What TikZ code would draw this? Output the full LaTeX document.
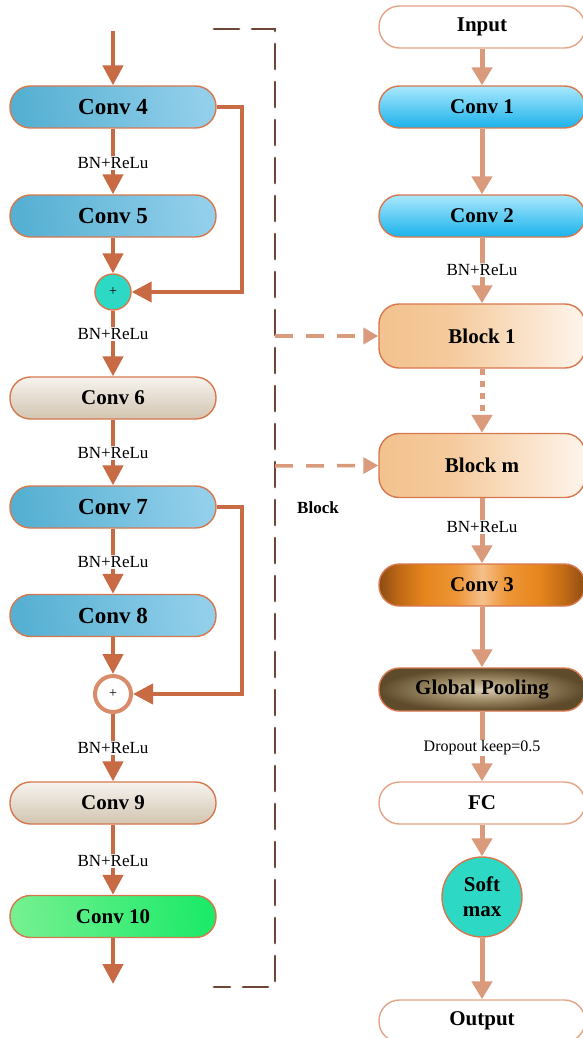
\documentclass[tikz,border=0pt]{standalone}
\usepackage{fontspec}
\setmainfont{Liberation Serif}
\usetikzlibrary{arrows.meta}
\definecolor{lcol}{HTML}{C86A44}
\definecolor{rcol}{HTML}{DA9A7C}
\definecolor{boxc}{HTML}{D6784E}
\definecolor{wboxc}{HTML}{E3A486}
\definecolor{framec}{HTML}{6E4635}
\definecolor{bA}{HTML}{56B0D2}
\definecolor{bB}{HTML}{5A97C8}
\definecolor{bC}{HTML}{92CFEB}
\definecolor{gA}{HTML}{74F090}
\definecolor{gB}{HTML}{48D674}
\definecolor{gC}{HTML}{1CEA68}
\definecolor{beT}{HTML}{F6F3EF}
\definecolor{beB}{HTML}{D2C5B0}
\definecolor{cyT}{HTML}{AAE8FC}
\definecolor{cyB}{HTML}{1AB2EB}
\definecolor{blkA}{HTML}{F3C28E}
\definecolor{blkB}{HTML}{F5CA9C}
\definecolor{blkC}{HTML}{FEF4EB}
\definecolor{cthA}{HTML}{F4C08A}
\definecolor{cthB}{HTML}{EE9638}
\definecolor{cthC}{HTML}{E6851C}
\definecolor{cthE}{HTML}{C06A16}
\definecolor{cthD}{HTML}{8E4C12}
\definecolor{gpA}{HTML}{DACDB3}
\definecolor{gpB}{HTML}{A08C68}
\definecolor{gpC}{HTML}{5E4B2B}
\definecolor{turq}{HTML}{2DD8C4}
\pgfdeclarehorizontalshading{blkshade}{100bp}{color(0bp)=(blkA); color(25bp)=(blkA); color(42bp)=(blkB); color(75bp)=(blkC); color(100bp)=(blkC)}
\pgfdeclarehorizontalshading{cthshade}{100bp}{color(0bp)=(cthD); color(25bp)=(cthD); color(30bp)=(cthE); color(36bp)=(cthC); color(44bp)=(cthB); color(50bp)=(cthA); color(56bp)=(cthB); color(64bp)=(cthC); color(70bp)=(cthE); color(75bp)=(cthD); color(100bp)=(cthD)}
\pgfdeclareradialshading{gpshade}{\pgfpoint{0bp}{0bp}}{color(0bp)=(gpA); color(12bp)=(gpB); color(25bp)=(gpC); color(50bp)=(gpC)}
\begin{document}
\begin{tikzpicture}[x=1pt,y=-1pt,
  box/.style={rectangle, rounded corners=20.5pt, minimum width=206pt, minimum height=42pt, inner sep=0pt, draw=boxc, line width=1.4pt, font=\bfseries\fontsize{21}{24}\selectfont},
  bigtxt/.style={font=\bfseries\fontsize{23}{26}\selectfont},
  bluebox/.style={box, bigtxt, left color=bA, middle color=bB, right color=bC, shading angle=100},
  greenbox/.style={box, left color=gA, middle color=gB, right color=gC, shading angle=95},
  beigebox/.style={box, top color=beT, bottom color=beB},
  cyanbox/.style={box, top color=cyT, bottom color=cyB},
  whitebox/.style={box, draw=wboxc, fill=white},
  blockbox/.style={box, minimum height=64pt, rounded corners=20pt, shading=blkshade},
  cthbox/.style={box, shading=cthshade},
  gpbox/.style={box, minimum height=43pt, shading=gpshade},
  plusc/.style={circle, minimum size=36pt, inner sep=0pt, font=\fontsize{14}{16}\selectfont},
  larrow/.style={draw=lcol, line width=4.5pt, -{Triangle[length=20pt,width=20pt]}},
  rarrow/.style={draw=rcol, line width=5pt, -{Triangle[length=18pt,width=20pt]}},
  darrow/.style={draw=rcol, line width=3.5pt, dash pattern=on 18pt off 13pt, -{Triangle[length=15pt,width=16pt]}},
  frame/.style={draw=framec, line width=2.8pt, dash pattern=on 25pt off 13pt, line cap=round},
  lab/.style={fill=white, inner sep=1pt, font=\fontsize{17}{19}\selectfont},
  rlab/.style={fill=white, inner sep=1pt, font=\fontsize{16}{18}\selectfont}
]
\useasboundingbox (0,0) rectangle (582,1038);

% ---------- left column ----------
\coordinate (tin) at (113,31);
\coordinate (tout) at (113,984);
\node[bluebox] (c4) at (113,107) {Conv 4};
\node[bluebox] (c5) at (113,216) {Conv 5};
\node[plusc, fill=turq, draw=boxc, line width=1.4pt] (p1) at (113,292) {+};
\node[beigebox] (c6) at (113,398) {Conv 6};
\node[bluebox] (c7) at (113,507) {Conv 7};
\node[bluebox] (c8) at (113,615.5) {Conv 8};
\node[plusc, fill=white, draw={rgb,255:red,216;green,140;blue,106}, line width=4pt] (p2) at (113,694) {+};
\node[beigebox] (c9) at (113,803) {Conv 9};
\node[greenbox] (c10) at (113,916.5) {Conv 10};

\draw[larrow] (tin) -- (c4);
\draw[larrow] (c4) -- (c5);
\draw[larrow] (c5) -- (p1);
\draw[larrow] (p1) -- (c6);
\draw[larrow] (c6) -- (c7);
\draw[larrow] (c7) -- (c8);
\draw[larrow] (c8) -- (p2);
\draw[larrow] (p2) -- (c9);
\draw[larrow] (c9) -- (c10);
\draw[larrow] (c10) -- (tout);
\draw[larrow, line width=4.2pt] (c4.east) -- ++(25,0) |- (p1);
\draw[larrow, line width=4.2pt] (c7.east) -- ++(25,0) |- (p2);

\node[lab] (l1) at (113,163) {BN+ReLu};
\node[lab] (l2) at (113,334) {BN+ReLu};
\node[lab] (l3) at (113,453) {BN+ReLu};
\node[lab] (l4) at (113,562) {BN+ReLu};
\node[lab] (l5) at (113,748) {BN+ReLu};
\node[lab] (l6) at (113,861) {BN+ReLu};

% ---------- dashed frame ----------
\coordinate (f1) at (214,29);
\coordinate (f2) at (275,29);
\coordinate (f3) at (275,987);
\coordinate (f4) at (214,987);
\draw[frame] (f1) -- (f2) -- (f3) -- (f4);
\node[font=\bfseries\fontsize{17}{19}\selectfont] (blk) at (318,508) {Block};

% ---------- right column ----------
\node[whitebox] (in) at (482,27) {Input};
\node[cyanbox] (r1) at (482,107) {Conv 1};
\node[cyanbox] (r2) at (482,216) {Conv 2};
\node[blockbox] (b1) at (482,336) {Block 1};
\node[blockbox] (bm) at (482,465.5) {Block m};
\node[cthbox] (r3) at (482,585) {Conv 3};
\node[gpbox] (gp) at (482,689.5) {Global Pooling};
\node[whitebox] (fc) at (482,803) {FC};
\node[circle, minimum size=80pt, inner sep=0pt, fill=turq, draw=boxc, line width=1.4pt, align=center, font=\bfseries\fontsize{21}{25}\selectfont] (sm) at (482,897) {Soft\\max};
\node[whitebox] (out) at (482,1021) {Output};

\draw[rarrow] (in) -- (r1);
\draw[rarrow] (r1) -- (r2);
\draw[rarrow] (r2) -- (b1);
\draw[rarrow, dash pattern=on 6pt off 6pt] (b1) -- (bm);
\draw[rarrow] (bm) -- (r3);
\draw[rarrow] (r3) -- (gp);
\draw[rarrow] (gp) -- (fc);
\draw[rarrow] (fc) -- (sm);
\draw[rarrow] (sm) -- (out);

\node[lab] (rl1) at (482,270) {BN+ReLu};
\node[lab] (rl2) at (482,527) {BN+ReLu};
\node[rlab] (rl3) at (482,748) {Dropout keep=0.5};

\coordinate (s1) at (275,336);
\coordinate (s2) at (275,466);
\draw[darrow] (s1) -- (b1.west);
\draw[darrow] (s2) -- (bm.west);
\end{tikzpicture}
\end{document}
